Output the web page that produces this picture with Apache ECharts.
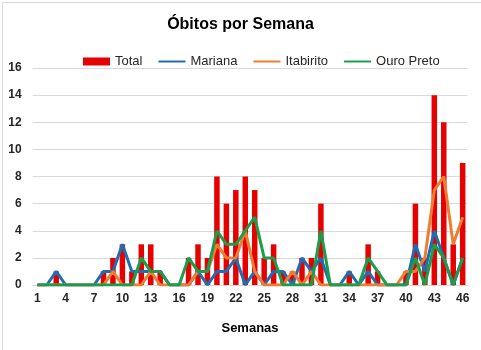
<!DOCTYPE html>
<html>
<head>
<meta charset="utf-8">
<script src="https://cdn.jsdelivr.net/npm/echarts@6/dist/echarts.min.js"></script>
<style>
html,body{margin:0;padding:0;background:#fff;}
#c{width:481px;height:350px;}
</style>
</head>
<body>
<div id="c"></div>
<script>
const weeks = Array.from({length: 46}, (_, i) => String(i + 1));
const total      = [0,0,1,0,0,0,0,1,2,3,1,3,3,1,0,0,2,3,2,8,6,7,8,7,2,3,1,1,2,2,6,0,0,1,0,3,1,0,0,1,6,2,14,12,3,9];
const mariana    = [0,0,1,0,0,0,0,1,1,3,1,1,1,1,0,0,0,1,0,1,1,2,0,1,0,1,1,0,2,1,2,0,0,1,0,1,0,0,0,0,3,1,4,2,0,2];
const itabirito  = [0,0,0,0,0,0,0,0,1,0,0,0,1,0,0,0,0,1,1,3,2,2,4,1,0,0,0,1,0,1,0,0,0,0,0,0,0,0,0,1,1,2,7,8,3,5];
const ouroPreto  = [0,0,0,0,0,0,0,0,0,0,0,2,1,1,0,0,2,1,1,4,3,3,4,5,2,2,0,0,0,0,4,0,0,0,0,2,1,0,0,0,2,0,3,2,0,2];
const yTicks = { min: 0, max: 16, interval: 2 };

const font = "'Liberation Sans', Arial, sans-serif";
const chart = echarts.init(document.getElementById('c'), null, {renderer: 'canvas'});
const lineSeries = (name, data, color) => ({
  name, type: 'line', data, symbol: 'none', showSymbol: false,
  lineStyle: { width: 3, color }, itemStyle: { color },
  emphasis: { disabled: true }, animation: false
});
chart.setOption({
  animation: false,
  backgroundColor: '#ffffff',
  graphic: [{
    type: 'rect', left: 0, top: 0, z: -1,
    shape: { x: 0.5, y: 0.5, width: 480, height: 349 },
    style: { fill: 'none', stroke: '#d9d9d9', lineWidth: 1 }
  }],
  title: {
    text: 'Óbitos por Semana', left: 'center', top: 12,
    textStyle: { fontFamily: font, fontSize: 16, fontWeight: 'bold', color: '#000' }
  },
  legend: {
    top: 50, left: 78, itemWidth: 27, itemHeight: 8, itemGap: 15,
    textStyle: { fontFamily: font, fontSize: 13, color: '#262626' },
    data: [
      { name: 'Total', icon: 'rect' },
      { name: 'Mariana', itemStyle: { opacity: 0 } },
      { name: 'Itabirito', itemStyle: { opacity: 0 } },
      { name: 'Ouro Preto', itemStyle: { opacity: 0 } }
    ]
  },
  grid: { left: 32.6, right: 13.6, top: 68, bottom: 65, containLabel: false },
  xAxis: {
    type: 'category', data: weeks, boundaryGap: true,
    name: 'Semanas', nameLocation: 'middle', nameGap: 37,
    nameTextStyle: { fontFamily: font, fontSize: 13, fontWeight: 'bold', color: '#000' },
    axisLine: { lineStyle: { color: '#d9d9d9' } },
    axisTick: { show: false },
    axisLabel: { interval: 2, margin: 8, fontFamily: font, fontSize: 12, fontWeight: 'bold', color: '#262626' }
  },
  yAxis: {
    type: 'value', min: yTicks.min, max: yTicks.max, interval: yTicks.interval,
    axisLine: { show: false }, axisTick: { show: false },
    splitLine: { lineStyle: { color: '#d9d9d9', width: 1 } },
    axisLabel: { margin: 11, fontFamily: font, fontSize: 12, fontWeight: 'bold', color: '#262626' }
  },
  series: [
    { name: 'Total', type: 'bar', data: total, barWidth: 5.5, itemStyle: { color: '#e60000' }, emphasis: { disabled: true } },
    lineSeries('Mariana', mariana, '#1f6db3'),
    lineSeries('Itabirito', itabirito, '#ee7d31'),
    lineSeries('Ouro Preto', ouroPreto, '#1a9e4b')
  ]
});
</script>
</body>
</html>
